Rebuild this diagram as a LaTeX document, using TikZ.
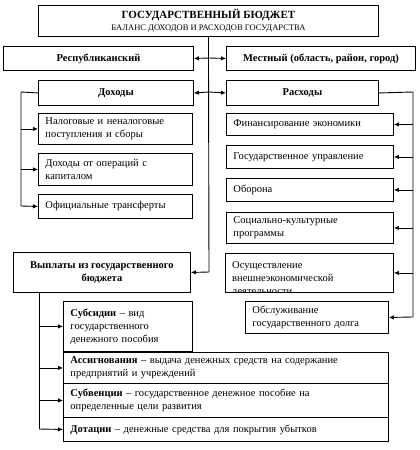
\documentclass[tikz,border=0pt]{standalone}
\usepackage{fontspec}
\setmainfont{Liberation Serif}
\usetikzlibrary{arrows.meta}
\begin{document}
\begin{tikzpicture}[x=1pt,y=-1pt,
  font=\fontsize{10.5}{13}\selectfont,
  box/.style={draw, line width=0.9pt, inner sep=0pt, anchor=north west},
  cbox/.style={box, align=center},
  lbox/.style={box, inner xsep=7pt, align=left},
  arr/.style={-{Latex[length=5pt,width=4.5pt]}, line width=0.9pt},
  ln/.style={line width=0.9pt}]
\useasboundingbox (0,0) rectangle (420,450);
% top
\node[cbox, minimum width=340, minimum height=31] (top) at (38,5)
  {\fontsize{11}{13}\selectfont\textbf{ГОСУДАРСТВЕННЫЙ БЮДЖЕТ}\\[-1pt]{\fontsize{8.5}{10}\selectfont БАЛАНС ДОХОДОВ И РАСХОДОВ ГОСУДАРСТВА}};
\node[cbox, minimum width=190, minimum height=24] (resp) at (3,46) {\textbf{Республиканский}};
\node[cbox, minimum width=189, minimum height=24] (mest) at (226,46) {\textbf{Местный (область, район, город)}};
\node[cbox, minimum width=155, minimum height=25] (doh) at (38,80) {\textbf{Доходы}};
\node[cbox, minimum width=152, minimum height=25] (ras) at (226,80) {\textbf{Расходы}};
% incomes
\node[lbox, text width=140, minimum height=31] (nal) at (38,113) {Налоговые и неналоговые\\поступления и сборы};
\node[lbox, text width=140, minimum height=32] (kap) at (38,153) {Доходы от операций с\\капиталом};
\node[lbox, text width=140, minimum height=24] (trf) at (38,194) {Официальные трансферты};
% expenses
\node[lbox, text width=153, minimum height=22] (fin) at (226,113) {Финансирование экономики};
\node[lbox, text width=153, minimum height=23] (gos) at (226,145) {Государственное управление};
\node[lbox, text width=153, minimum height=23] (obo) at (226,178) {Оборона};
\node[lbox, text width=153, minimum height=31] (soc) at (226,212) {Социально-культурные\\программы};
\begin{scope}
  \clip (225,253) rectangle (393,291);
  \node[anchor=north west, inner sep=0pt, text width=154, align=left] (vnetext) at (232,261)
    {Осуществление\\внешнеэкономической\\деятельности};
\end{scope}
\node[box, minimum width=168, minimum height=39] (vne) at (225,253) {};
\node[lbox, text width=129, minimum height=32] (obs) at (245,301) {Обслуживание\\государственного долга};
% payments
\node[cbox, minimum width=177, minimum height=40] (vyp) at (13,252) {\textbf{Выплаты из государственного}\\\textbf{бюджета}};
\node[lbox, text width=115, minimum height=50] (sub) at (63,301) {\textbf{Субсидии} – вид\\государственного\\денежного пособия};
\node[lbox, text width=311, minimum height=31] (asg) at (63,352) {\textbf{Ассигнования} – выдача денежных средств на содержание\\предприятий и учреждений};
\node[lbox, text width=311, minimum height=34] (sbv) at (63,383) {\textbf{Субвенции} – государственное денежное пособие на\\определенные цели развития};
\node[lbox, text width=311, minimum height=24] (dot) at (63,417) {\textbf{Дотации} – денежные средства для покрытия убытков};
% central spine
\coordinate (c1) at (209,58);
\coordinate (c2) at (209,92);
\coordinate (c3) at (209,272);
\draw[ln] (top.south) -- (c3);
\draw[arr] (c1) -- (resp.east);
\draw[arr] (c1) -- (mest.west);
\draw[arr] (c2) -- (doh.east);
\draw[arr] (c2) -- (ras.west);
\draw[arr] (c3) -- (vyp.east);
% income branch
\coordinate (l1) at (21,92);
\coordinate (l2) at (21,206);
\draw[ln] (doh.west) -- (l1) -- (l2);
\draw[arr] (l1 |- nal.west) -- (nal.west);
\draw[arr] (l1 |- kap.west) -- (kap.west);
\draw[arr] (l2) -- (trf.west);
% expense branch
\coordinate (r1) at (413,92);
\coordinate (r2) at (413,317);
\draw[ln] (ras.east) -- (r1) -- (r2);
\draw[arr] (r1 |- fin.east) -- (fin.east);
\draw[arr] (r1 |- gos.east) -- (gos.east);
\draw[arr] (r1 |- obo.east) -- (obo.east);
\draw[arr] (r1 |- soc.east) -- (soc.east);
\draw[arr] (r1 |- vne.east) -- (vne.east);
\draw[arr] (r2) -- (obs.east);
% payments branch
\coordinate (p1) at (39,292);
\coordinate (p2) at (39,429);
\draw[ln] (p1) -- (p2);
\draw[arr] (p1 |- sub.west) -- (sub.west);
\draw[arr] (p1 |- asg.west) -- (asg.west);
\draw[arr] (p1 |- sbv.west) -- (sbv.west);
\draw[arr] (p2) -- (dot.west);
\end{tikzpicture}
\end{document}
